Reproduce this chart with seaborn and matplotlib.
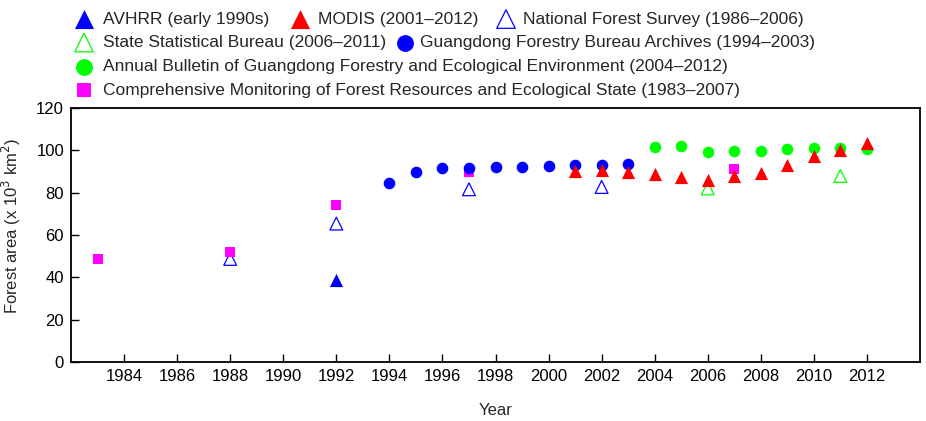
import numpy as np
import pandas as pd
import matplotlib
matplotlib.use('Agg')
import matplotlib.pyplot as plt
import seaborn as sns

# values (forest area, x 10^3 km2)
avhrr_years = [1992]
avhrr_area = [38.6]

modis_years = list(range(2001, 2013))
modis_area = [90.2, 90.9, 90.0, 88.9, 87.2, 86.0, 88.0, 89.3, 93.1, 97.2, 100.0, 103.4]

nfs_years = [1988, 1992, 1997, 2002]
nfs_area = [48.7, 65.4, 81.6, 82.7]

ssb_years = [2006, 2011]
ssb_area = [82.0, 87.9]

gfba_years = list(range(1994, 2004))
gfba_area = [84.5, 89.7, 91.5, 91.8, 92.0, 92.3, 92.4, 93.0, 93.3, 93.7]

bulletin_years = list(range(2004, 2013))
bulletin_area = [101.7, 101.9, 99.2, 99.8, 99.8, 100.6, 101.2, 101.2, 100.8]

cmfr_years = [1983, 1988, 1992, 1997, 2007]
cmfr_area = [48.8, 52.2, 74.2, 89.6, 91.3]

labels = ['AVHRR (early 1990s)',
          'MODIS (2001\u20132012)',
          'National Forest Survey (1986\u20132006)',
          'State Statistical Bureau (2006\u20132011)',
          'Guangdong Forestry Bureau Archives (1994\u20132003)',
          'Annual Bulletin of Guangdong Forestry and Ecological Environment (2004\u20132012)',
          'Comprehensive Monitoring of Forest Resources and Ecological State (1983\u20132007)']

sns.set_style('ticks')
plt.rcParams['font.family'] = ['Liberation Sans', 'DejaVu Sans']

W, H = 926, 421
fig = plt.figure(figsize=(W / 100, H / 100), dpi=100)
ax = fig.add_axes([71 / W, 1 - 362 / H, (920 - 71) / W, (362 - 108) / H])

handles = {}

def add(years, area, key, **kw):
    df = pd.DataFrame({'year': years, 'area': area})
    sns.scatterplot(data=df, x='year', y='area', ax=ax, legend=False, **kw)
    handles[key] = ax.collections[-1]

# draw order: open triangles, squares, circles, filled triangles
add(nfs_years, nfs_area, 'nfs', marker='^', s=85, facecolor='none',
    edgecolor='blue', linewidth=0.9)
add(ssb_years, ssb_area, 'ssb', marker='^', s=85, facecolor='none',
    edgecolor='lime', linewidth=0.9)
add(cmfr_years, cmfr_area, 'cmfr', marker='s', s=45, color='magenta', linewidth=0)
add(gfba_years, gfba_area, 'gfba', marker='o', s=70, color='blue', linewidth=0)
add(bulletin_years, bulletin_area, 'bulletin', marker='o', s=70, color='lime', linewidth=0)
add(modis_years, modis_area, 'modis', marker='^', s=90, color='red', linewidth=0)
add(avhrr_years, avhrr_area, 'avhrr', marker='^', s=90, color='blue', linewidth=0)

ax.set_xlim(1982, 2014)
ax.set_ylim(0, 120)
ax.set_xticks(np.arange(1984, 2013, 2))
ax.set_yticks(np.arange(0, 121, 20))
ax.tick_params(direction='in', length=5.5, width=1, labelsize=12, pad=5, colors='black')
for sp in ax.spines.values():
    sp.set_linewidth(1.3)
    sp.set_color('black')
ax.set_xlabel('Year', fontsize=12, labelpad=14)
ax.set_ylabel('Forest area (x 10$^3$ km$^2$)', fontsize=12)
ax.yaxis.set_label_coords(-0.057, 0.535)

# legend, one entry at a time: (key, label index, marker x px, text x px, row y px)
fs = 12.5
fpx = fs * 100 / 72
hl = 1.1
entries = [('avhrr', 0, 84, 103, 19), ('modis', 1, 300, 318, 19), ('nfs', 2, 506, 523, 19),
           ('ssb', 3, 84, 103, 42.5), ('gfba', 4, 405, 420, 42.5),
           ('bulletin', 5, 84, 103, 66.5), ('cmfr', 6, 84, 103, 90)]
for key, li, mx, tx, ry in entries:
    anchor = mx - 0.5 * hl * fpx
    pad = (tx - anchor - hl * fpx) / fpx
    fig.legend(handles=[handles[key]], labels=[labels[li]], loc='center left',
               bbox_to_anchor=(anchor / W, 1 - ry / H), frameon=False, fontsize=fs,
               handlelength=hl, handletextpad=pad, borderpad=0, borderaxespad=0,
               scatterpoints=1, markerscale=1.45)

fig.savefig('out.png', dpi=100)
